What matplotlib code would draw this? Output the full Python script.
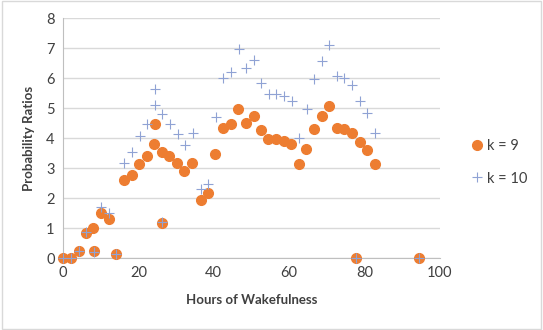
import matplotlib
matplotlib.use("Agg")
import matplotlib.pyplot as plt
from matplotlib.patches import Rectangle

plt.rcParams['font.family'] = ['Lato', 'DejaVu Sans']

# k = 9 (orange circles)
hours_k9 = [0, 2.2, 4.3, 6.2, 8.0, 8.1, 10.1, 12.2, 14.2, 16.2, 18.3, 20.3, 22.3, 24.2, 24.3,
            26.3, 26.2, 28.2, 30.3, 32.2, 34.3, 36.5, 38.5, 40.4, 42.4, 44.5, 46.5, 48.5,
            50.6, 52.5, 54.5, 56.5, 58.6, 60.6, 62.6, 64.6, 66.6, 68.6, 70.7, 72.6, 74.7,
            76.7, 78.7, 80.7, 82.8, 77.7, 94.6]
ratio_k9 = [0, 0, 0.23, 0.85, 1.0, 0.25, 1.5, 1.3, 0.15, 2.6, 2.77, 3.12, 3.41, 3.79, 4.47,
            3.52, 1.18, 3.4, 3.16, 2.9, 3.16, 1.93, 2.17, 3.46, 4.33, 4.46, 4.96, 4.52,
            4.73, 4.27, 3.96, 3.98, 3.92, 3.8, 3.14, 3.64, 4.29, 4.73, 5.07, 4.34, 4.29,
            4.18, 3.88, 3.6, 3.14, 0, 0]

# k = 10 (blue crosses)
hours_k10 = [0, 2.2, 4.3, 6.2, 8.1, 10.1, 12.2, 14.2, 16.2, 18.3, 20.4, 22.3, 24.3, 24.4,
             26.4, 26.2, 28.4, 30.5, 32.4, 34.5, 36.5, 38.6, 40.5, 42.5, 44.6, 46.6, 48.6,
             50.7, 52.6, 54.6, 56.6, 58.7, 60.7, 62.7, 64.7, 66.7, 68.7, 70.7, 72.7, 74.7,
             76.7, 78.8, 80.8, 82.8, 77.7, 94.6]
ratio_k10 = [0, 0, 0.23, 0.88, 0.2, 1.71, 1.49, 0.15, 3.18, 3.52, 4.07, 4.47, 5.1, 5.63,
             4.79, 1.2, 4.47, 4.13, 3.77, 4.16, 2.29, 2.47, 4.71, 6.01, 6.21, 6.96, 6.34,
             6.6, 5.84, 5.46, 5.46, 5.4, 5.24, 3.99, 4.97, 5.97, 6.58, 7.09, 6.08, 5.99,
             5.77, 5.23, 4.84, 4.16, 0, 0]

fig = plt.figure(figsize=(5.43, 3.30), dpi=100)
ax = fig.add_axes([0.116, 0.218, 0.694, 0.727])

ax.plot(hours_k9, ratio_k9, 'o', color='#ED7D31', markersize=7, label='k = 9',
        zorder=3, clip_on=False)
ax.plot(hours_k10, ratio_k10, '+', color='#8FA2D4', markersize=7, markeredgewidth=0.8,
        label='k = 10', zorder=4, clip_on=False)

ax.set_xlim(0, 100)
ax.set_ylim(0, 8)
ax.set_xticks(range(0, 101, 20))
ax.set_yticks(range(0, 9))
ax.grid(axis='y', color='#D9D9D9', linewidth=1)
ax.set_axisbelow(True)
ax.tick_params(length=0, labelsize=10.5, colors='#404040', pad=6)
for side in ['top', 'right']:
    ax.spines[side].set_visible(False)
for side in ['left', 'bottom']:
    ax.spines[side].set_color('#BFBFBF')

ax.set_xlabel('Hours of Wakefulness', fontsize=9.5, fontweight='bold', color='#404040', labelpad=10)
ax.set_ylabel('Probability Ratios', fontsize=9.5, fontweight='bold', color='#404040', labelpad=8)

ax.legend(loc='center left', bbox_to_anchor=(1.04, 0.40), frameon=False, fontsize=10.5,
          handletextpad=0.1, handlelength=1.2, labelspacing=1.3, labelcolor='#404040')

fig.patches.append(Rectangle((0.003, 0.003), 0.994, 0.994, transform=fig.transFigure,
                             fill=False, edgecolor='#D9D9D9', linewidth=1))

fig.savefig('out.png', dpi=100)
